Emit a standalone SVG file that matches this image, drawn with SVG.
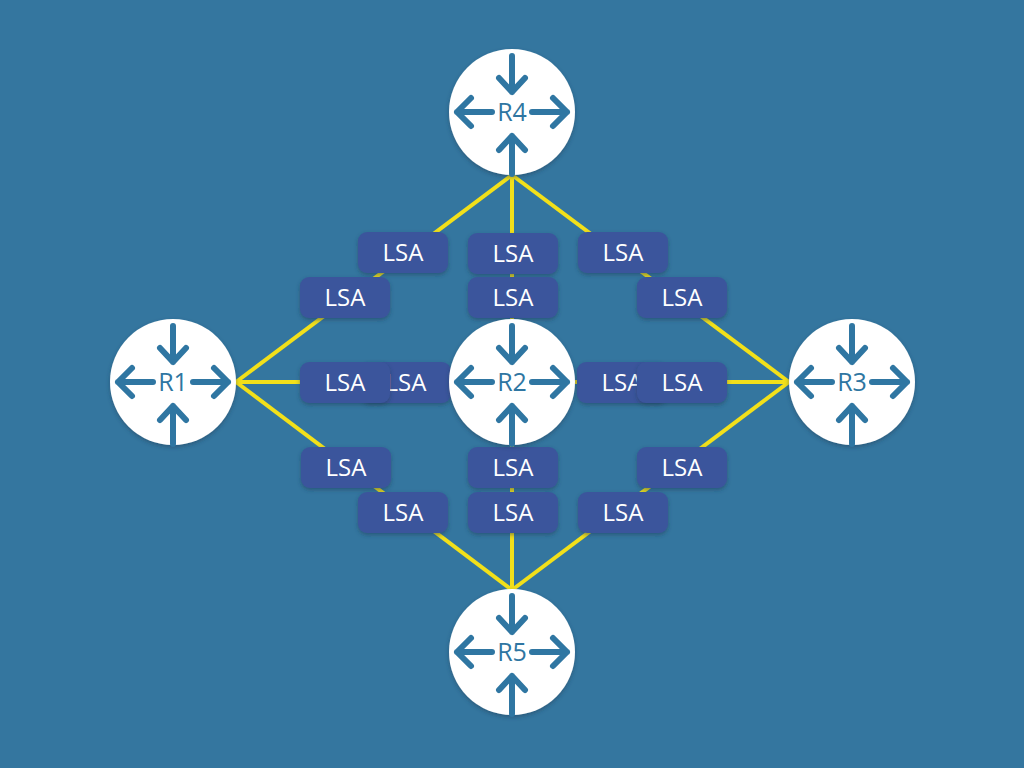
<svg xmlns="http://www.w3.org/2000/svg" xmlns:xlink="http://www.w3.org/1999/xlink" width="1024" height="768" viewBox="0 0 1024 768">
<style>
.link{stroke:#f2e01a;stroke-width:4;fill:none}
.rc{fill:#ffffff}
.ic{stroke:#2f76a2;stroke-width:6;fill:none;stroke-linecap:round;stroke-linejoin:round}
.rl{font-family:"Open Sans","Liberation Sans",sans-serif;font-size:25px;fill:#2f76a2;text-anchor:middle}
.box{fill:#3b559c}
.bt{font-family:"Open Sans","Liberation Sans",sans-serif;font-size:24px;fill:#ffffff;text-anchor:middle}
</style>
<defs>
<filter id="sh" x="-20%" y="-20%" width="140%" height="150%">
<feDropShadow dx="0" dy="2" stdDeviation="2" flood-color="#1d3a55" flood-opacity="0.5"/>
</filter>
<g id="icon">
<circle class="rc" r="63" cx="0" cy="0" filter="url(#sh)"/>
<path class="ic" d="M0,-56 V-20 M-13,-34 L0,-20 L13,-34"/>
<path class="ic" d="M0,62 V24 M-13,38 L0,24 L13,38"/>
<path class="ic" d="M-20,0 H-55 M-41,-14 L-55,0 L-41,14"/>
<path class="ic" d="M20,0 H55 M41,-14 L55,0 L41,14"/>
</g>
<g id="lsa">
<rect class="box" x="-45" y="-20" width="90" height="41" rx="9" filter="url(#sh)"/>
<text class="bt" x="0" y="9">LSA</text>
</g>
</defs>
<rect width="1024" height="768" fill="#34769f"/>
<g id="connectors">
<line class="link" x1="512" y1="175" x2="236" y2="382"/>
<line class="link" x1="512" y1="175" x2="512" y2="319"/>
<line class="link" x1="512" y1="175" x2="789" y2="382"/>
<line class="link" x1="512" y1="590" x2="236" y2="382"/>
<line class="link" x1="512" y1="590" x2="512" y2="445"/>
<line class="link" x1="512" y1="590" x2="789" y2="382"/>
<line class="link" x1="236" y1="382" x2="449" y2="382"/>
<line class="link" x1="575" y1="382" x2="789" y2="382"/>
</g>
<g id="R1"><use xlink:href="#icon" x="173" y="382"/><text class="rl" x="173" y="391">R1</text></g>
<g id="R4"><use xlink:href="#icon" x="512" y="112"/><text class="rl" x="512" y="121">R4</text></g>
<g id="R3"><use xlink:href="#icon" x="852" y="382"/><text class="rl" x="852" y="391">R3</text></g>
<g id="R5"><use xlink:href="#icon" x="512" y="652"/><text class="rl" x="512" y="661">R5</text></g>
<g id="lsa-boxes">
<use xlink:href="#lsa" x="403" y="252"/>
<use xlink:href="#lsa" x="345" y="297"/>
<use xlink:href="#lsa" x="513" y="253"/>
<use xlink:href="#lsa" x="513" y="297"/>
<use xlink:href="#lsa" x="623" y="252"/>
<use xlink:href="#lsa" x="682" y="297"/>
<use xlink:href="#lsa" x="406" y="382"/>
<use xlink:href="#lsa" x="345" y="382"/>
<use xlink:href="#lsa" x="622" y="382"/>
<use xlink:href="#lsa" x="682" y="382"/>
<use xlink:href="#lsa" x="346" y="467"/>
<use xlink:href="#lsa" x="403" y="512"/>
<use xlink:href="#lsa" x="513" y="467"/>
<use xlink:href="#lsa" x="513" y="512"/>
<use xlink:href="#lsa" x="682" y="467"/>
<use xlink:href="#lsa" x="623" y="512"/>
</g>
<g id="R2"><use xlink:href="#icon" x="512" y="382"/><text class="rl" x="512" y="391">R2</text></g>
</svg>
